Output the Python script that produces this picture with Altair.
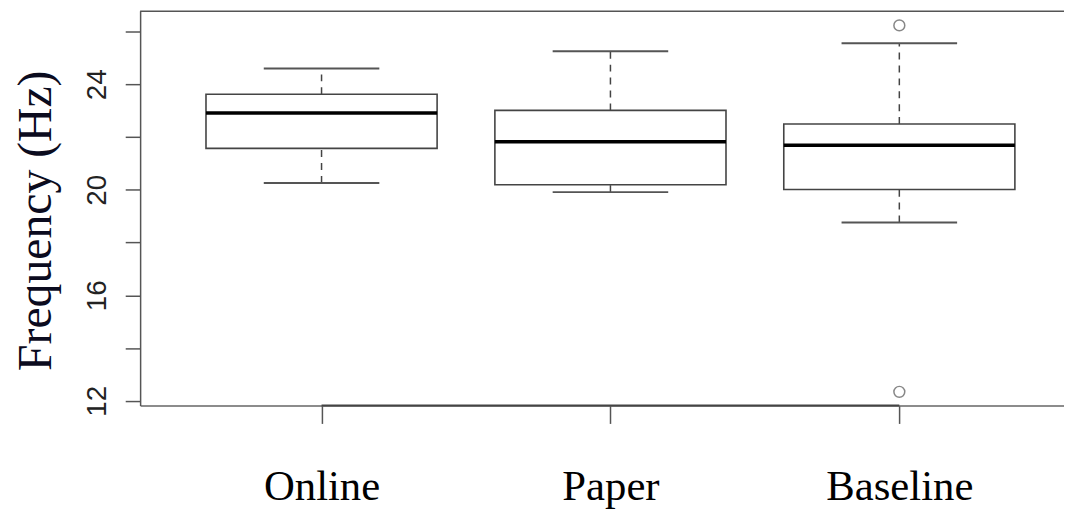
import altair as alt
import pandas as pd

categories = ["Online", "Paper", "Baseline"]
positions = [1, 2, 3]
lower = [20.26, 19.91, 18.76]
q1 = [21.57, 20.19, 20.01]
median = [22.91, 21.82, 21.69]
q3 = [23.62, 23.01, 22.49]
upper = [24.60, 25.25, 25.55]

outlier_pos = [3, 3]
outlier_values = [26.23, 12.34]

y_ticks = [12, 14, 16, 18, 20, 22, 24, 26]

W = 930
H = 397.5
BOX_HALF = 0.4
CAP_HALF = 0.2

df = pd.DataFrame({
    "cat": categories, "pos": positions, "lower": lower, "q1": q1,
    "median": median, "q3": q3, "upper": upper,
})
out_df = pd.DataFrame({"pos": outlier_pos, "value": outlier_values})
seg_df = pd.DataFrame({"a": [positions[0]], "b": [positions[-1]]})

xs = alt.Scale(domain=[0.372, 3.57], nice=False, zero=False)
ys = alt.Scale(domain=[11.82, 26.79], nice=False, zero=False)

label_expr = "[" + ",".join("'%s'" % c for c in categories) + "][datum.value - 1]"

x_axis = alt.Axis(
    values=positions, labelExpr=label_expr, title=None,
    labelFont="Liberation Serif", labelFontSize=43, labelColor="#000",
    labelBaseline="alphabetic", labelPadding=77, tickSize=18,
    tickColor="#555", tickWidth=1.5, domainColor="#666", domainWidth=1.5,
    labelFlush=False, labelOverlap=False,
)
y_axis = alt.Axis(
    values=y_ticks, labelExpr="datum.value % 4 == 0 ? datum.label : ''",
    labelFont="Liberation Sans", labelFontSize=28, labelColor="#222",
    labelAngle=270, labelAlign="center", labelBaseline="alphabetic",
    labelPadding=20, tickSize=15, tickColor="#555", tickWidth=1.5,
    domainColor="#555", domainWidth=1.5, labelOverlap=False, labelFlush=False,
    title="Frequency (Hz)", titleFont="Liberation Serif", titleFontSize=48,
    titleFontWeight="normal", titleColor="#0b0b1e", titleAngle=270,
    titleAlign="center", titleBaseline="alphabetic", titleX=-90, titleY=211,
)

base = alt.Chart(df).transform_calculate(
    left="datum.pos - %f" % BOX_HALF,
    right="datum.pos + %f" % BOX_HALF,
    capl="datum.pos - %f" % CAP_HALF,
    capr="datum.pos + %f" % CAP_HALF,
)

top_rule = alt.Chart(seg_df).mark_rule(color="#555", strokeWidth=1.5).encode(
    x=alt.value(0), x2=alt.value(W), y=alt.value(0.5)
)

whisk_up = base.mark_rule(color="#444", strokeWidth=1.5, strokeDash=[7, 6]).encode(
    x=alt.X("pos:Q", scale=xs, axis=x_axis),
    y=alt.Y("q3:Q", scale=ys, axis=y_axis),
    y2="upper:Q",
)
whisk_lo = base.mark_rule(color="#444", strokeWidth=1.5, strokeDash=[7, 6]).encode(
    x="pos:Q", y="lower:Q", y2="q1:Q"
)
cap_up = base.mark_rule(color="#555", strokeWidth=2).encode(
    x="capl:Q", x2="capr:Q", y="upper:Q"
)
cap_lo = base.mark_rule(color="#555", strokeWidth=2).encode(
    x="capl:Q", x2="capr:Q", y="lower:Q"
)
box = base.mark_rect(fill="white", stroke="#444", strokeWidth=1.6).encode(
    x="left:Q", x2="right:Q", y="q1:Q", y2="q3:Q"
)
med = base.mark_rule(color="#000", strokeWidth=3.5).encode(
    x="left:Q", x2="right:Q", y="median:Q"
)
outl = alt.Chart(out_df).mark_point(
    shape="circle", filled=False, size=120, stroke="#555", strokeWidth=1.5
).encode(x="pos:Q", y="value:Q")

seg = alt.Chart(seg_df).mark_rule(color="#444", strokeWidth=2).encode(
    x="a:Q", x2="b:Q", y=alt.value(H)
)

chart = alt.layer(
    whisk_up, whisk_lo, cap_up, cap_lo, box, med, outl, seg, top_rule
).properties(
    width=W, height=H,
    padding={"left": 133, "top": 1, "right": 0, "bottom": 104},
    autosize=alt.AutoSizeParams(type="none"),
    background="white",
).configure_view(stroke=None).configure_axis(grid=False)

chart.save("out.html", embed_options={"renderer": "svg", "actions": False})
